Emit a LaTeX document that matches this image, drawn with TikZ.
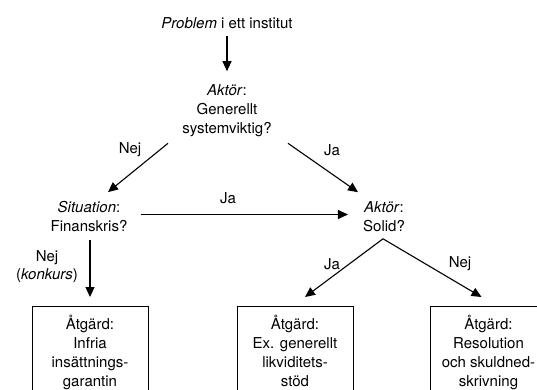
\documentclass[tikz,border=0pt]{standalone}
\usepackage{fontspec}
\setmainfont{TeX Gyre Heros}
\usetikzlibrary{arrows.meta,calc}
\begin{document}
\begin{tikzpicture}[x=1pt,y=-1pt,
  txt/.style={inner sep=0pt,align=center,font=\fontsize{15}{19}\selectfont},
  lbl/.style={inner sep=0pt,align=center,font=\fontsize{15}{18}\selectfont},
  actbox/.style={draw,line width=1pt,inner xsep=0pt,inner ysep=9pt,minimum width=116pt,anchor=north,align=center,font=\fontsize{15}{18.7}\selectfont},
  arr/.style={line width=1.1pt,-{Triangle[length=10pt,width=9pt]}}]
\useasboundingbox (0,0) rectangle (537,390);
\clip (0,0) rectangle (537,390);
% text nodes
\node[txt] (prob) at (227,23) {\textit{Problem} i ett institut};
\node[txt] (akt1) at (227,111) {\textit{Aktör}:\\Generellt\\systemviktig?};
\node[txt] (sit) at (89,216.5) {\textit{Situation}:\\Finanskris?};
\node[txt] (akt2) at (384,216.5) {\textit{Aktör}:\\Solid?};
% boxes
\node[actbox] (box1) at (90,306) {Åtgärd:\\Infria\\insättnings-\\garantin};
\node[actbox] (box2) at (295,306) {Åtgärd:\\Ex. generellt\\likviditets-\\stöd};
\node[actbox] (box3) at (488.5,306) {Åtgärd:\\Resolution\\och skuldned-\\skrivning};
% connectors
\draw[arr] ($(prob.south)+(0,7)$) -- ($(akt1.north)+(0,-13.5)$);
\draw[arr] ($(akt1.south)+(-59,6)$) -- ($(sit.north)+(19,-9)$);
\draw[arr] ($(akt1.south)+(61,6)$) -- ($(akt2.north)+(-26,-9)$);
\draw[arr] ($(sit.east)+(13,-2)$) -- ($(akt2.west)+(-15,-2)$);
\draw[arr] ($(sit.south)+(1,8)$) -- ($(box1.north)+(0,-9)$);
\draw[arr] ($(akt2.south)+(-1,7)$) -- ($(box2.north)+(10,-9)$);
\draw[arr] ($(akt2.south)+(-1,7)$) -- ($(box3.north)+(-7,-9)$);
% labels
\node[lbl] (l1) at (130,150) {Nej};
\node[lbl] (l2) at (332,150) {Ja};
\node[lbl] (l3) at (228,198) {Ja};
\node[lbl] (l4) at (47,267) {Nej\\(\textit{konkurs})};
\node[lbl] (l5) at (332,264) {Ja};
\node[lbl] (l6) at (460,264) {Nej};
\end{tikzpicture}
\end{document}
